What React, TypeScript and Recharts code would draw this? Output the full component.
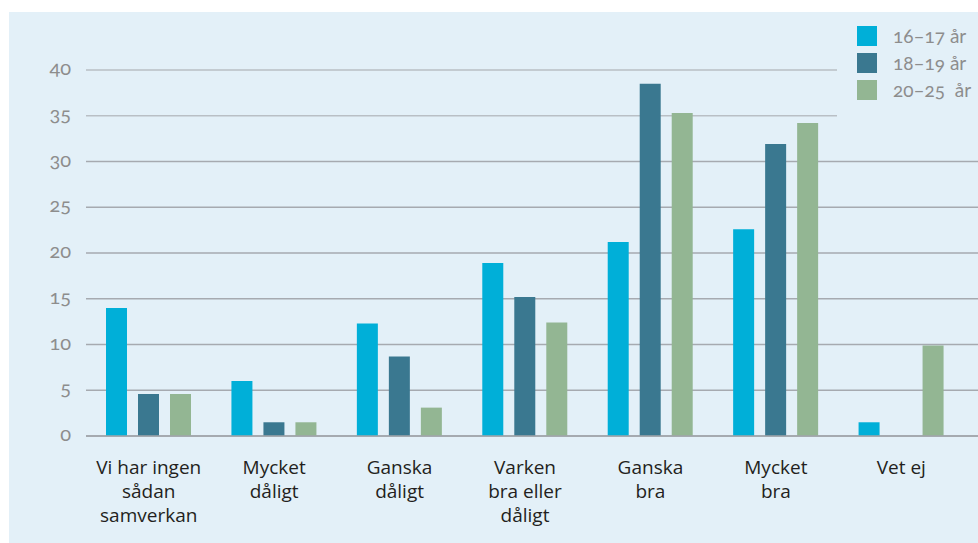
import { BarChart, Bar, XAxis, YAxis, CartesianGrid, Legend } from 'recharts'

const categories = [
  'Vi har ingen\nsådan\nsamverkan',
  'Mycket\ndåligt',
  'Ganska\ndåligt',
  'Varken\nbra eller\ndåligt',
  'Ganska\nbra',
  'Mycket\nbra',
  'Vet ej',
]
const age1617 = [14, 6, 12.3, 18.9, 21.2, 22.6, 1.5]
const age1819 = [4.6, 1.5, 8.7, 15.2, 38.5, 31.9, 0]
const age2025 = [4.6, 1.5, 3.1, 12.4, 35.3, 34.2, 9.9]
const yTicks = [0, 5, 10, 15, 20, 25, 30, 35, 40]

const SERIES = [
  { key: 'a', name: '16–17 år', color: '#00afd8' },
  { key: 'b', name: '18–19 år', color: '#3a7890' },
  { key: 'c', name: '20–25  år', color: '#93b693' },
]

const data = categories.map((label, i) => ({
  label,
  a: age1617[i],
  b: age1819[i],
  c: age2025[i],
}))

const FONT = '"Open Sans", "DejaVu Sans", sans-serif'
const NUM_FONT = 'Lato, "Open Sans", sans-serif'

function CategoryTick({ x, y, payload }: any) {
  const lines = String(payload.value).split('\n')
  return (
    <text x={x} y={y} textAnchor="middle" fill="#231f20" fontSize={19} fontFamily={FONT}>
      {lines.map((line, i) => (
        <tspan key={i} x={x} dy={i === 0 ? 38 : 24}>
          {line}
        </tspan>
      ))}
    </text>
  )
}

function NumTick({ x, y, payload }: any) {
  return (
    <text
      x={x}
      y={y}
      dy={5}
      textAnchor="end"
      fill="#8d8d8d"
      fontSize={20}
      fontFamily={NUM_FONT}
      style={{ fontVariantNumeric: 'oldstyle-nums', fontFeatureSettings: '"onum"' }}
    >
      {payload.value}
    </text>
  )
}

function GridLine(props: any) {
  const { x1, y1, x2, y2 } = props
  // the two top lines stop short of the legend
  const short = y1 < 120
  return (
    <line
      x1={x1}
      y1={y1}
      x2={short ? 837 : x2}
      y2={y2}
      stroke={short ? '#b9bfc5' : '#a6aab0'}
      strokeWidth={1.6}
    />
  )
}

function LegendBox() {
  return (
    <div style={{ fontFamily: NUM_FONT }}>
      {SERIES.map(s => (
        <div key={s.key} style={{ display: 'flex', alignItems: 'center', height: 27 }}>
          <span style={{ width: 20, height: 20, background: s.color, display: 'inline-block', flex: 'none' }} />
          <span
            style={{
              marginLeft: 16,
              color: '#8d8d8d',
              fontSize: 19,
              whiteSpace: 'pre',
              fontVariantNumeric: 'oldstyle-nums',
            }}
          >
            {s.name}
          </span>
        </div>
      ))}
    </div>
  )
}

export default function App() {
  return (
    <div style={{ position: 'absolute', left: 0, top: 0, width: 978, height: 543, background: '#fff' }}>
      <div
        style={{ position: 'absolute', left: 9, top: 12, width: 969, height: 531, background: '#e3f0f8' }}
      />
      <div style={{ position: 'absolute', left: 0, top: 0 }}>
        <BarChart
          width={978}
          height={543}
          data={data}
          margin={{ top: 70, right: 0, bottom: 0, left: 0 }}
          barGap={11}
          barSize={21}
        >
          <CartesianGrid vertical={false} horizontal={GridLine as any} />
          <XAxis
            dataKey="label"
            height={107}
            interval={0}
            padding={{ left: 0, right: 14 }}
            tickLine={false}
            tickSize={0}
            tickMargin={0}
            axisLine={{ stroke: '#a0a4aa', strokeWidth: 1.6 }}
            tick={<CategoryTick />}
          />
          <YAxis
            width={86}
            domain={[0, 40]}
            ticks={yTicks}
            axisLine={false}
            tickLine={false}
            tickSize={0}
            tickMargin={15}
            tick={<NumTick />}
          />
          <Legend
            layout="horizontal"
            verticalAlign="middle"
            align="center"
            content={<LegendBox />}
            wrapperStyle={{ left: 857, top: 22, width: 121 }}
          />
          {SERIES.map(s => (
            <Bar key={s.key} dataKey={s.key} name={s.name} fill={s.color} isAnimationActive={false} />
          ))}
        </BarChart>
      </div>
    </div>
  )
}
